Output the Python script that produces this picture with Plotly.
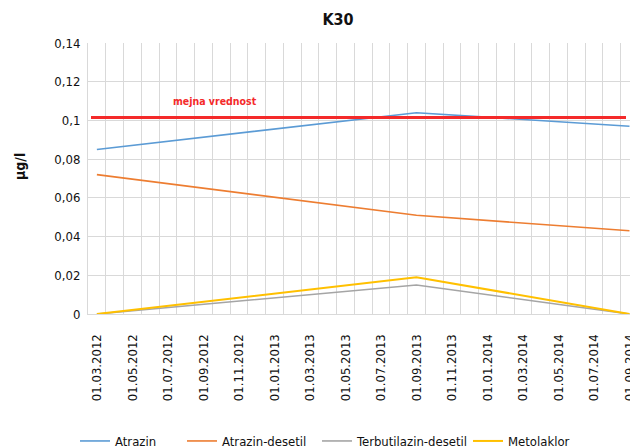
import plotly.graph_objects as go

# ---- data ----
sample_dates = ["01.03.2012", "01.09.2013", "01.09.2014"]
atrazin = [0.085, 0.104, 0.097]
atrazin_desetil = [0.072, 0.051, 0.043]
terbutilazin_desetil = [0.0, 0.015, 0.0]
metolaklor = [0.0, 0.019, 0.0]
mejna_vrednost = 0.1015

x_tick_labels = ["01.03.2012", "01.05.2012", "01.07.2012", "01.09.2012", "01.11.2012",
                 "01.01.2013", "01.03.2013", "01.05.2013", "01.07.2013", "01.09.2013",
                 "01.11.2013", "01.01.2014", "01.03.2014", "01.05.2014", "01.07.2014",
                 "01.09.2014"]
y_tick_vals = [0, 0.02, 0.04, 0.06, 0.08, 0.10, 0.12, 0.14]
y_tick_text = ["0", "0,02", "0,04", "0,06", "0,08", "0,1", "0,12", "0,14"]


def month_index(s):
    d, m, y = s.split(".")
    return (int(y) - 2012) * 12 + int(m) - 3


xs = [month_index(s) for s in sample_dates]
tick_pos = [month_index(s) for s in x_tick_labels]

FONT = "Liberation Sans Narrow, Arial Narrow, DejaVu Sans Condensed, sans-serif"
GRID = "#d9d9d9"

series = [
    ("Atrazin", atrazin, "#5B9BD5", 1.6),
    ("Atrazin-desetil", atrazin_desetil, "#ED7D31", 1.6),
    ("Terbutilazin-desetil", terbutilazin_desetil, "#A5A5A5", 1.6),
    ("Metolaklor", metolaklor, "#FFC000", 2.0),
]
legend_names = ["legend", "legend2", "legend3", "legend4"]
legend_px = [75, 182, 317, 468]

fig = go.Figure()
for (name, vals, col, w), lg in zip(series, legend_names):
    fig.add_trace(go.Scatter(
        x=xs, y=vals, mode="lines", name=name,
        line=dict(color=col, width=w), legend=lg,
        hovertemplate="%{y}<extra>" + name + "</extra>",
    ))

W, H = 630, 448
plot_left, plot_right = 88, 630
plot_top, plot_bottom = 43, 314
plot_w = plot_right - plot_left
plot_h = plot_bottom - plot_top
legend_cfg = {}
for lg, px in zip(legend_names, legend_px):
    legend_cfg[lg] = dict(
        x=px / W, xanchor="left", xref="container",
        y=1 - 441 / H, yanchor="middle", yref="container",
        orientation="h", bgcolor="rgba(0,0,0,0)",
        font=dict(family=FONT, size=13, color="#111111"),
    )

fig.update_layout(
    width=W, height=H,
    margin=dict(l=plot_left, r=W - plot_right, t=plot_top, b=H - plot_bottom, autoexpand=False),
    paper_bgcolor="white", plot_bgcolor="white",
    font=dict(family=FONT, color="#111111"),
    title=dict(text="<b>K30</b>", x=338 / W, xanchor="center", xref="container",
               y=1 - 19 / H, yanchor="middle", yref="container",
               font=dict(family=FONT, size=16, color="#111111")),
    showlegend=True,
    **legend_cfg,
)

fig.update_xaxes(
    range=[-0.5, 30.03], automargin=False,
    tickmode="array", tickvals=tick_pos, ticktext=x_tick_labels,
    tickangle=-90, ticklabelstandoff=14, ticklabeloverflow="allow",
    tickfont=dict(family=FONT, size=13, color="#111111"),
    showgrid=False, zeroline=False,
    showline=True, linecolor=GRID, linewidth=1,
    ticks="",
    minor=dict(tick0=-0.5, dtick=1, showgrid=True, gridcolor=GRID, gridwidth=1, ticks=""),
)
fig.update_yaxes(
    range=[0, 0.14], automargin=False,
    tickmode="array", tickvals=y_tick_vals, ticktext=y_tick_text,
    tickfont=dict(family=FONT, size=13, color="#111111"),
    showgrid=True, gridcolor=GRID, gridwidth=1,
    zeroline=False, showline=True, linecolor=GRID, linewidth=1,
    ticks="", ticklabelstandoff=4,
)

# limit line
fig.add_shape(type="line", xref="paper", yref="y",
              x0=(91 - plot_left) / plot_w, x1=(626 - plot_left) / plot_w,
              y0=mejna_vrednost, y1=mejna_vrednost,
              line=dict(color="#F42A2A", width=3))
fig.add_annotation(text="<b>mejna vrednost</b>", xref="paper", yref="y",
                   x=(215 - plot_left) / plot_w, xanchor="center",
                   y=mejna_vrednost, yshift=17,
                   showarrow=False, font=dict(family=FONT, size=10.5, color="#F42A2A"))

# y-axis title
fig.add_annotation(text="<b>µg/l</b>", xref="paper", yref="paper",
                   x=(20 - plot_left) / plot_w, xanchor="center",
                   y=(plot_bottom - 167) / plot_h,
                   textangle=-90, showarrow=False,
                   font=dict(family=FONT, size=14, color="#111111"))

fig.write_html("out.html")
